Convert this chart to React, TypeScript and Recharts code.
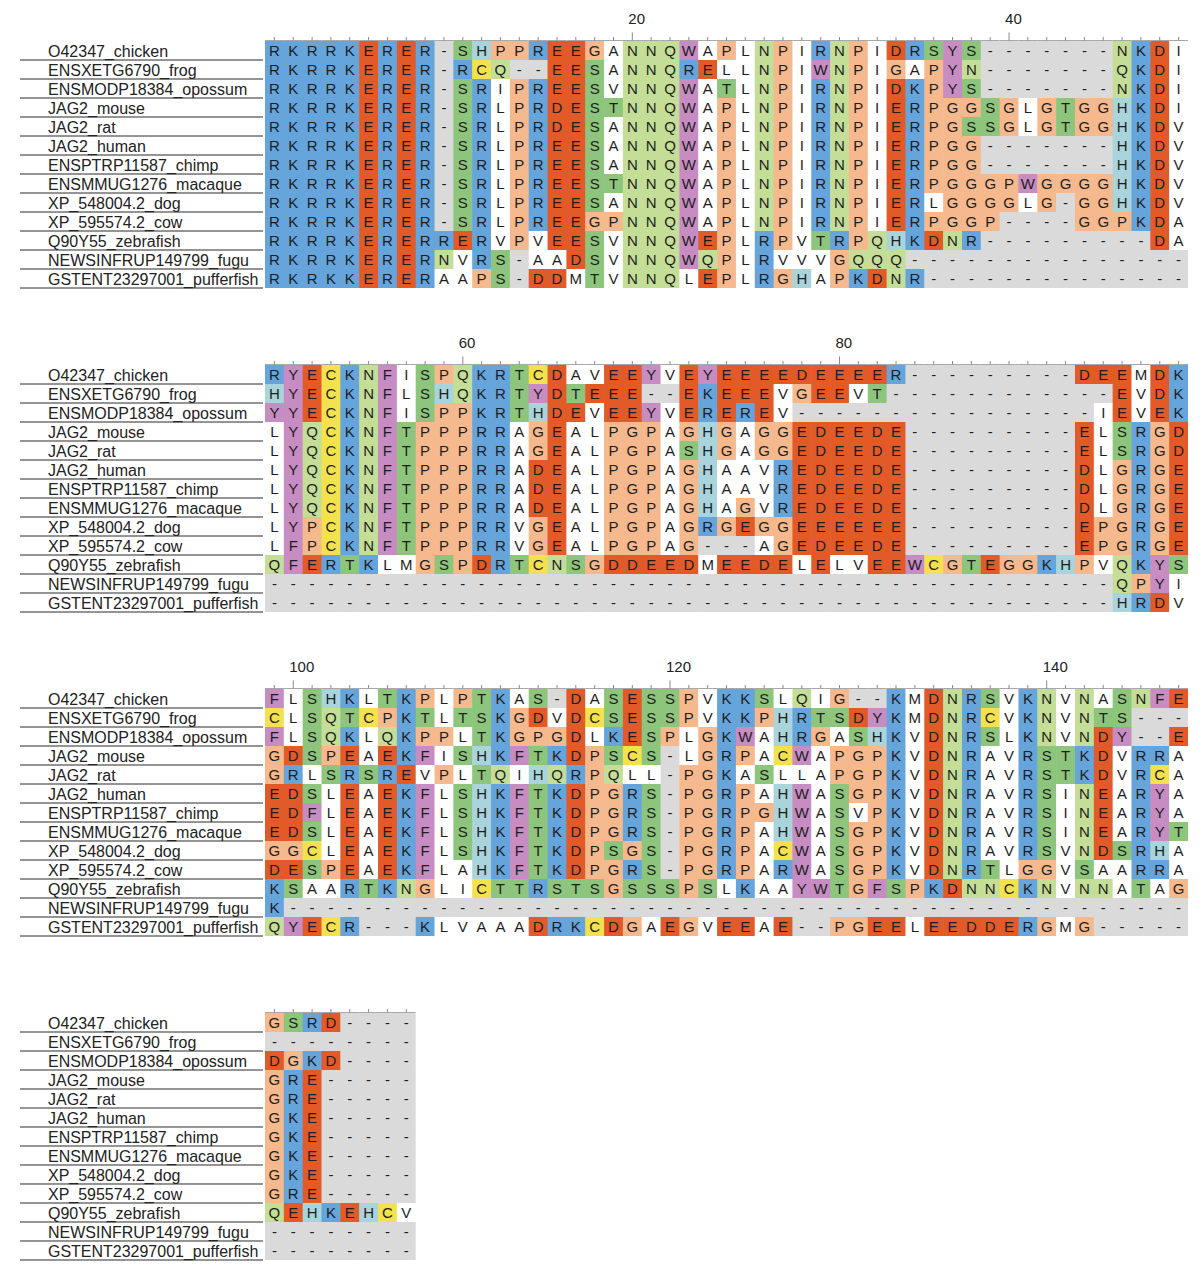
import React from 'react';
import { ScatterChart, Scatter, XAxis, YAxis } from 'recharts';

const species = [
  'O42347_chicken',
  'ENSXETG6790_frog',
  'ENSMODP18384_opossum',
  'JAG2_mouse',
  'JAG2_rat',
  'JAG2_human',
  'ENSPTRP11587_chimp',
  'ENSMMUG1276_macaque',
  'XP_548004.2_dog',
  'XP_595574.2_cow',
  'Q90Y55_zebrafish',
  'NEWSINFRUP149799_fugu',
  'GSTENT23297001_pufferfish',
];

// columns 1-49
const block1 = [
  'RKRRKERER-SHPPRE' + 'EGANNQWAPLNPIRNPI' + 'DRSYS-------NKDI',
  'RKRRKERER-RCQ--E' + 'ESANNQRELLNPIWNPI' + 'GAPYN-------QKDI',
  'RKRRKERER-SRIPRE' + 'ESVNNQWATLNPIRNPI' + 'DKPYS-------NKDI',
  'RKRRKERER-SRLPRD' + 'ESTNNQWAPLNPIRNPI' + 'ERPGGSGLGTGGHKDI',
  'RKRRKERER-SRLPRD' + 'ESANNQWAPLNPIRNPI' + 'ERPGSSGLGTGGHKDV',
  'RKRRKERER-SRLPRE' + 'ESANNQWAPLNPIRNPI' + 'ERPGG-------HKDV',
  'RKRRKERER-SRLPRE' + 'ESANNQWAPLNPIRNPI' + 'ERPGG-------HKDV',
  'RKRRKERER-SRLPRE' + 'ESTNNQWAPLNPIRNPI' + 'ERPGGGPWGGGGHKDV',
  'RKRRKERER-SRLPRE' + 'ESANNQWAPLNPIRNPI' + 'ERLGGGGLG-GGHKDV',
  'RKRRKERER-SRLPRE' + 'EGPNNQWAPLNPIRNPI' + 'ERPGGP----GGPKDA',
  'RKRRKERERRERVPVE' + 'ESVNNQWEPLRPVTRPQ' + 'HKDNR---------DA',
  'RKRRKERERNVRS-AA' + 'DSVNNQWQPLRVVVGQQ' + 'Q---------------',
  'RKRKKERERAAPS-DD' + 'MTVNNQLEPLRGHAPKD' + 'NR--------------',
];

// columns 50-98
const block2 = [
  'RYECKNFISPQKRTCD' + 'AVEEYVEYEEEEDEEEE' + 'R---------DEEMDK',
  'HYECKNFLSHQKRTYD' + 'TEEE--EKEEEVGEEVT' + '------------EVDK',
  'YYECKNFISPPKRTHD' + 'EVEEYVEREREV-----' + '-----------IEVEK',
  'LYQCKNFTPPPRRAGE' + 'ALPGPAGHGAGGEDEED' + 'E---------ELSRGD',
  'LYQCKNFTPPPRRAGE' + 'ALPGPASHGAGGEDEED' + 'E---------ELSRGD',
  'LYQCKNFTPPPRRADE' + 'ALPGPAGHAAVREDEED' + 'E---------DLGRGE',
  'LYQCKNFTPPPRRADE' + 'ALPGPAGHAAVREDEED' + 'E---------DLGRGE',
  'LYQCKNFTPPPRRADE' + 'ALPGPAGHAGVREDEED' + 'E---------DLGRGE',
  'LYPCKNFTPPPRRVGE' + 'ALPGPAGRGEGGEEEEE' + 'E---------EPGRGE',
  'LFPCKNFTPPPRRVGE' + 'ALPGPAG---AGEDEED' + 'E---------EPGRGE',
  'QFERTKLMGSPDRTCN' + 'SGDDEEDMEEDELELVE' + 'EWCGTEGGKHPVQKYS',
  '----------------' + '-----------------' + '------------QPYI',
  '----------------' + '-----------------' + '------------HRDV',
];

// columns 99-147
const block3 = [
  'FLSHKLTKPLPTKAS-' + 'DASESSPVKKSLQIG--' + 'KMDNRSVKNVNASNFE',
  'CLSQTCPKTLTSKGDV' + 'DCSESSPVKKPHRTSDY' + 'KMDNRCVKNVNTS---',
  'FLSQKLQKPPLTKGPG' + 'DLKESPLGKWAHRGASH' + 'KVDNRSLKNVNDY--E',
  'GDSPEAEKFISHKFTK' + 'DPSCS-LGRPACWAPGP' + 'KVDNRAVRSTKDVRRA',
  'GRLSRSREVPLTQIHQ' + 'RPQLL-PGKASLLAPGP' + 'KVDNRAVRSTKDVRCA',
  'EDSLEAEKFLSHKFTK' + 'DPGRS-PGRPAHWASGP' + 'KVDNRAVRSINEARYA',
  'EDFLEAEKFLSHKFTK' + 'DPGRS-PGRPGHWASVP' + 'KVDNRAVRSINEARYA',
  'EDSLEAEKFLSHKFTK' + 'DPGRS-PGRPAHWASGP' + 'KVDNRAVRSINEARYT',
  'GGCLEAEKFLSHKFTK' + 'DPSGS-PGRPACWASGP' + 'KVDNRAVRSVNDSRHA',
  'DESPEAEKFLAHKFTK' + 'DPGRS-PGRPARWASGP' + 'KVDNRTLGGVSAARRA',
  'KSAARTKNGLICTTRS' + 'TSGSSSPSLKAAYWTGF' + 'SPKDNNCKNVNNATAG',
  'K---------------' + '-----------------' + '----------------',
  'QYECR---KLVAAADR' + 'KCDGAEGVEEAE--PGE' + 'ELEEDDERGMG-----',
];

// columns 148-155
const block4 = [
  'GSRD----',
  '--------',
  'DGKD----',
  'GRE-----',
  'GRE-----',
  'GKE-----',
  'GKE-----',
  'GKE-----',
  'GKE-----',
  'GRE-----',
  'QEHKEHCV',
  '--------',
  '--------',
];

const blocks = [block1, block2, block3, block4];
const blockStarts = [1, 50, 99, 148];
const numberedEvery = 20;

const residueColor: Record<string, string> = {
  K: '#66a4dc', R: '#66a4dc',
  D: '#e35a29', E: '#e35a29',
  S: '#8ec57c', T: '#8ec57c',
  N: '#c4de98', Q: '#c4de98',
  P: '#f5b98d', G: '#f5b98d',
  H: '#a9d4db',
  Y: '#c78cc2', F: '#c78cc2', W: '#c78cc2',
  C: '#f3e24e',
  '-': '#dadada',
};

const CELL_W = 923 / 49;
const CELL_H = 19;
const LEFT = 265;
const AXIS_Y = 40.5;
const BLOCK_PITCH = 324;
const FONT = '"Liberation Sans", Arial, Helvetica, sans-serif';

const CellShape = (props: any) => {
  const { cx, cy, payload } = props;
  if (cx == null || cy == null) return <g />;
  const fill = residueColor[payload.ch] ?? '#ffffff';
  return (
    <g>
      <rect x={cx - CELL_W / 2} y={cy - CELL_H / 2} width={CELL_W + 0.6} height={CELL_H + 0.6} fill={fill} />
      <text x={cx} y={cy + 5.5} textAnchor="middle" fontSize={15} fill="#1e1e1e" fontFamily={FONT}>
        {payload.ch}
      </text>
    </g>
  );
};

const makeXTick = (start: number) => (props: any) => {
  const { x, payload } = props;
  const col = start + payload.value - 1;
  const labeled = col % numberedEvery === 0;
  return (
    <g>
      <line x1={x - CELL_W / 2} x2={x + CELL_W / 2} y1={AXIS_Y} y2={AXIS_Y} stroke="#a8a8a8" strokeWidth={1} />
      <line x1={x} x2={x} y1={AXIS_Y - (labeled ? 8 : 3.5)} y2={AXIS_Y} stroke="#8a8a8a" strokeWidth={1} />
      {labeled && (
        <text x={x - 4} y={AXIS_Y - 16.8} fontSize={15} fill="#222" textAnchor="start" fontFamily={FONT}>
          {col}
        </text>
      )}
    </g>
  );
};

const YTick = (props: any) => {
  const { y, payload } = props;
  const name = species[payload.value - 1];
  return (
    <g>
      <text x={48} y={y + 6.5} fontSize={16} fill="#222" fontFamily={FONT}>
        {name}
      </text>
      <line x1={20} x2={263} y1={y + 9.5} y2={y + 9.5} stroke="#2a2a2a" strokeWidth={1} />
    </g>
  );
};

function Block({ index }: { index: number }) {
  const rows = blocks[index];
  const start = blockStarts[index];
  const n = rows[0].length;
  const data: { x: number; y: number; ch: string }[] = [];
  rows.forEach((seq, r) => {
    for (let j = 0; j < seq.length; j++) {
      data.push({ x: j + 1, y: r + 1, ch: seq[j] });
    }
  });
  const xTicks = Array.from({ length: n }, (_, i) => i + 1);
  const yTicks = species.map((_, i) => i + 1);
  const width = LEFT + n * CELL_W + 2;
  return (
    <ScatterChart
      width={width}
      height={41 + 13 * CELL_H + 4}
      margin={{ top: 11, right: 2, bottom: 4, left: 20 }}
    >
      <XAxis
        type="number"
        dataKey="x"
        orientation="top"
        domain={[0.5, n + 0.5]}
        ticks={xTicks}
        interval={0}
        height={30}
        axisLine={false}
        tickLine={false}
        tick={makeXTick(start)}
        allowDataOverflow
      />
      <YAxis
        type="number"
        dataKey="y"
        domain={[0.5, 13.5]}
        reversed
        ticks={yTicks}
        interval={0}
        width={245}
        axisLine={false}
        tickLine={false}
        tick={YTick}
        allowDataOverflow
      />
      <Scatter data={data} shape={CellShape} isAnimationActive={false} />
    </ScatterChart>
  );
}

export default function App() {
  return (
    <div
      style={{
        position: 'absolute',
        left: 0,
        top: 0,
        width: 1200,
        height: 1275,
        background: '#ffffff',
        fontFamily: FONT,
      }}
    >
      {blocks.map((_, i) => (
        <div key={i} style={{ position: 'absolute', left: 0, top: i * BLOCK_PITCH }}>
          <Block index={i} />
        </div>
      ))}
    </div>
  );
}
